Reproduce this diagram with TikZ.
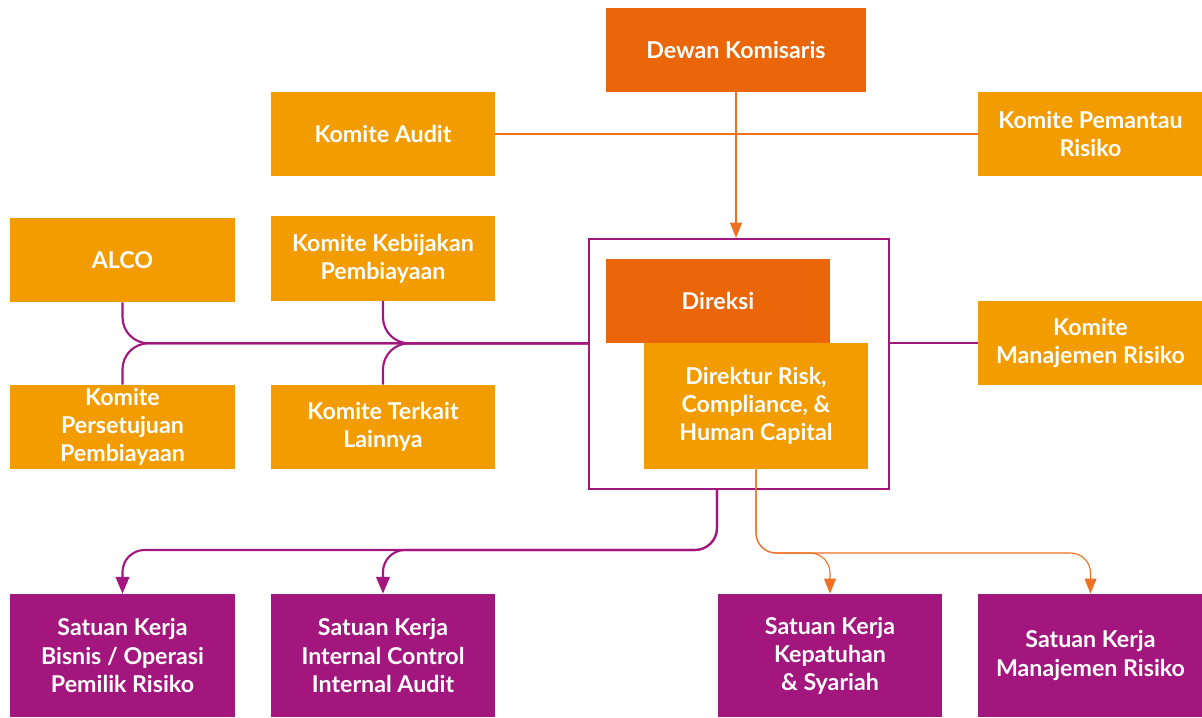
\documentclass[tikz,border=0pt]{standalone}
\usepackage{fontspec}
\setmainfont{Lato}
\usepackage{xcolor}
\usetikzlibrary{arrows.meta, positioning, calc}
\definecolor{headorange}{HTML}{EA6608}
\definecolor{komiteorange}{HTML}{F39C00}
\definecolor{riskpurple}{HTML}{A3167E}
\definecolor{lineorange}{HTML}{EE7023}
\tikzset{
  orgbox/.style={
    rectangle, align=center, text=white, inner sep=2pt,
    font=\bfseries\fontsize{16.5}{20}\selectfont,
    minimum width=5.6cm, minimum height=2.1cm
  },
  komitebox/.style={orgbox, fill=komiteorange},
  headbox/.style={orgbox, fill=headorange},
  unitbox/.style={orgbox, fill=riskpurple, minimum height=3.075cm},
  framebox/.style={
    draw=riskpurple, line width=1.6pt, inner sep=0pt,
    minimum width=7.5cm, minimum height=6.25cm
  },
  purpleline/.style={draw=riskpurple, line width=1.5pt},
  purplearrow/.style={
    purpleline, -{Triangle[length=0.42cm, width=0.34cm]}
  },
  orangeline/.style={draw=lineorange, line width=0.8pt},
  orangearrow/.style={
    orangeline, -{Triangle[length=0.38cm, width=0.3cm]}
  },
}

\begin{document}
\begin{tikzpicture}[x=0.025cm, y=-0.025cm]
  \useasboundingbox (0,0) rectangle (1202,717);

  % Dewan Komisaris and its committees
  \node[headbox, minimum width=6.5cm] (dewan) at (736,50) {Dewan Komisaris};
  \node[komitebox] (audit) at (383,134) {Komite Audit};
  \node[komitebox] (pemantau) at (1090.5,134) {Komite Pemantau\\Risiko};

  % Direksi frame
  \node[framebox] (frame) at (739,364) {};
  \node[headbox] (direksi) at (718,301) {Direksi};
  \node[komitebox, minimum height=3.15cm] (direktur) at (756,406)
    {Direktur Risk,\\Compliance, \&\\Human Capital};

  % committees under Direksi
  \node[komitebox] (alco) at (122.5,260) {ALCO};
  \node[komitebox] (kebijakan) at (383,258.5) {Komite Kebijakan\\Pembiayaan};
  \node[komitebox] (persetujuan) at (122.5,427)
    {Komite\\Persetujuan\\Pembiayaan};
  \node[komitebox] (terkait) at (383,427) {Komite Terkait\\Lainnya};
  \node[komitebox] (komitemr) at (1090.5,343) {Komite\\Manajemen Risiko};

  % working units
  \node[unitbox] (bisnis) at (122.5,655.5)
    {Satuan Kerja\\Bisnis / Operasi\\Pemilik Risiko};
  \node[unitbox] (internal) at (383,655.5)
    {Satuan Kerja\\Internal Control\\Internal Audit};
  \node[unitbox] (kepatuhan) at (830,655.5)
    {Satuan Kerja\\Kepatuhan\\\& Syariah};
  \node[unitbox] (mrunit) at (1090.5,655.5)
    {Satuan Kerja\\Manajemen Risiko};

  % Dewan Komisaris lines
  \draw[orangearrow] (dewan.south) -- (dewan.south |- frame.north);
  \draw[orangeline] (audit.east) -- (pemantau.west);

  % committees to Direksi
  \coordinate (hub) at (direksi.south -| frame.west);
  \draw[purpleline, rounded corners=0.65cm] (alco.south) |- (hub);
  \draw[purpleline, rounded corners=0.65cm] (persetujuan.north) |- (hub);
  \draw[purpleline, rounded corners=0.65cm] (kebijakan.south) |- (hub);
  \draw[purpleline, rounded corners=0.65cm] (terkait.north) |- (hub);
  \draw[purpleline] (frame.east |- komitemr.west) -- (komitemr.west);

  % Direksi to working units
  \coordinate (dirout) at ([xshift=-0.55cm]frame.south);
  \coordinate (purplebus) at (400,550);
  \draw[purplearrow, rounded corners=0.55cm]
    (dirout) |- (purplebus -| bisnis.north) -- (bisnis.north);
  \draw[purplearrow, rounded corners=0.55cm]
    (dirout) |- (purplebus -| internal.north) -- (internal.north);

  % Direktur to working units
  \coordinate (orangebus) at (900,553);
  \draw[orangearrow, rounded corners=0.5cm]
    (direktur.south) |- (orangebus -| mrunit.north) -- (mrunit.north);
  \draw[orangearrow, rounded corners=0.5cm]
    (direktur.south) |- (orangebus -| kepatuhan.north) -- (kepatuhan.north);
\end{tikzpicture}
\end{document}
